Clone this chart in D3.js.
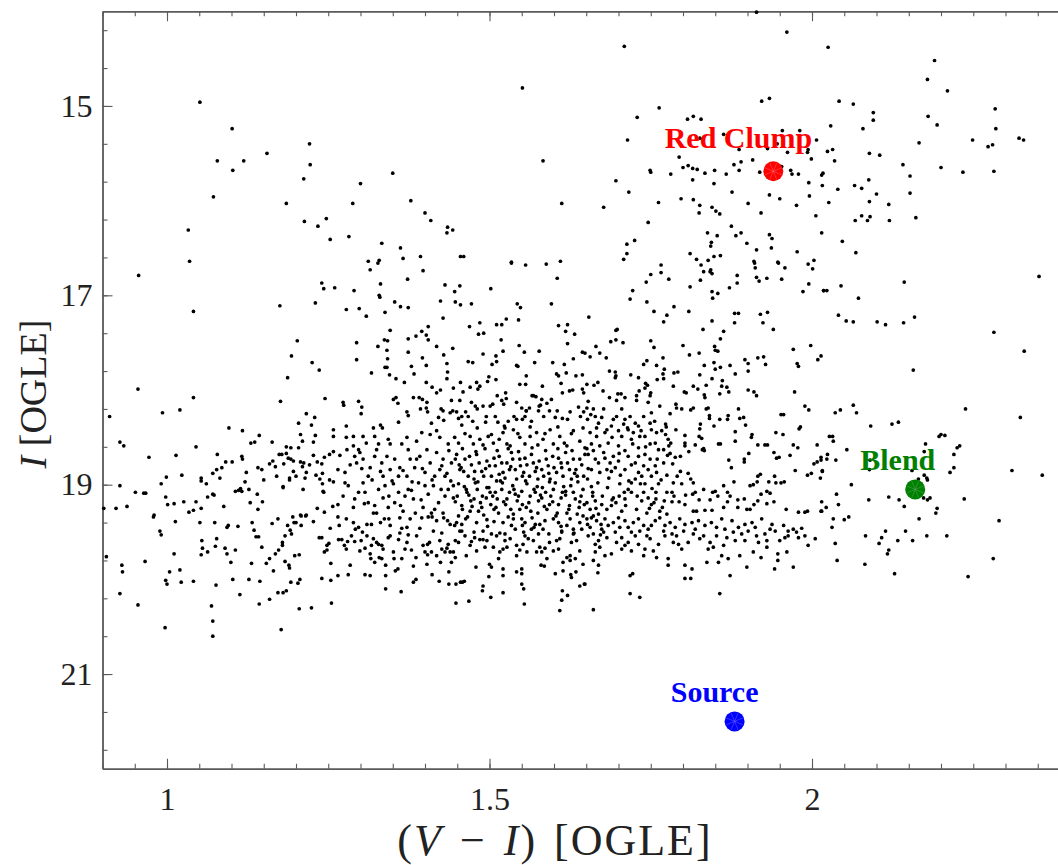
<!DOCTYPE html>
<html lang="en">
<head>
    <meta charset="UTF-8">
    <title>OGLE colour-magnitude diagram</title>
    <style>
        html, body {
            margin: 0;
            padding: 0;
            background-color: #ffffff;
        }
        svg text {
            font-family: 'Liberation Serif', 'DejaVu Serif', serif;
        }
    </style>
</head>
<body>
    <div id="graph"></div>
    <script src="https://d3js.org/d3.v7.min.js"></script>
    <script>
        // STAR DATA: [V-I, I]
        const brightStars = [
            [1.051,14.96],[1.101,15.24],[1.221,15.40],[1.155,15.50],[1.078,15.58],[1.119,15.58],[1.222,15.62],[1.102,15.68],[1.212,15.77],[1.072,15.96],[1.185,16.03],[1.213,16.22],[1.247,16.19],[1.234,16.27],[1.253,16.41],[1.033,16.31],[1.035,16.64],
            [1.551,14.81],[1.583,15.58],[1.350,15.71],[1.300,15.82],[1.288,16.03],[1.378,16.00],[1.612,16.03],[1.400,16.13],[1.409,16.21],[1.435,16.28],[1.434,16.34],[1.443,16.31],[1.282,16.38],[1.333,16.45],[1.362,16.50],[1.366,16.61],[1.393,16.59],[1.455,16.59],[1.460,16.59],[1.312,16.64],[1.329,16.63],[1.534,16.65],[1.610,16.64],
            [1.914,14.01],[1.961,14.22],[1.709,14.37],[1.922,14.95],[1.934,14.92],[1.763,15.02],[1.729,15.12],[1.807,15.14],[1.816,15.11],[1.828,15.14],[1.714,15.36],[1.863,15.30],[1.826,15.34],[1.954,15.26],[1.981,15.26],[2.007,15.36],[1.946,15.40],[1.931,15.45],[1.887,15.46],[1.962,15.49],[1.994,15.46],[1.993,15.49],[1.999,15.56],[1.794,15.54],[1.800,15.65],[1.808,15.63],[1.815,15.66],[1.822,15.67],[1.749,15.68],[1.750,15.70],[1.781,15.72],[1.834,15.71],[1.849,15.68],[1.867,15.72],[1.879,15.62],[1.890,15.59],[1.908,15.57],[1.887,15.68],[1.919,15.70],[1.953,15.64],[1.967,15.68],[1.969,15.72],[1.979,15.72],[1.995,15.81],[2.015,15.73],[2.017,15.71],[2.016,15.84],[1.815,15.78],[1.848,15.82],[1.696,15.79],[1.716,15.91],[1.876,15.91],[1.934,15.94],[1.950,15.98],[1.996,15.95],[1.677,16.07],[1.762,16.02],[1.797,15.98],[1.816,15.99],[1.826,16.05],[1.825,16.13],[1.845,16.07],[1.851,16.11],[1.857,16.14],[1.901,16.03],[1.921,16.13],[1.976,16.05],[2.006,16.16],[1.746,16.23],[1.725,16.42],[1.713,16.46],[1.713,16.56],[1.708,16.62],[1.838,16.34],[1.853,16.37],[1.844,16.44],[1.843,16.48],[1.875,16.27],[1.882,16.37],[1.890,16.34],[1.899,16.45],[1.914,16.52],[1.934,16.36],[1.938,16.40],[1.937,16.50],[1.977,16.54],[2.015,16.34],[1.811,16.56],[1.821,16.62],[1.839,16.63],[1.848,16.59],[1.858,16.58],[1.910,16.64],[1.947,16.65],[2.003,16.63],
            [2.025,14.38],[2.190,14.52],[2.179,14.72],[2.210,14.84],[2.042,14.95],[2.064,14.98],[2.095,15.07],[2.095,15.15],[2.284,15.03],[2.180,15.11],[2.194,15.20],[2.029,15.21],[2.079,15.24],[2.285,15.24],[2.166,15.39],[2.249,15.36],[2.273,15.43],[2.280,15.41],[2.321,15.34],[2.328,15.36],[2.024,15.48],[2.032,15.46],[2.035,15.58],[2.089,15.50],[2.105,15.52],[2.141,15.62],[2.200,15.65],[2.234,15.70],[2.282,15.69],[2.152,15.74],[2.088,15.78],[2.040,15.88],[2.066,15.84],[2.077,15.87],[2.100,15.93],[2.152,15.92],[2.026,16.02],[2.089,16.01],[2.119,16.04],[2.077,16.16],[2.090,16.17],[2.086,16.21],[2.067,16.21],[2.120,16.21],[2.161,16.18],[2.047,16.43],[2.068,16.55]
        ];

        const middleStars = [
            [0.956,16.79],[1.041,17.17],[1.175,17.11],[1.240,16.87],[1.243,16.93],[1.260,16.92],[1.230,17.08],[1.202,17.48],[1.193,17.64],[1.187,17.87],[1.225,17.71],[1.236,17.79],[1.176,18.12],[1.245,18.09],[0.955,17.99],[1.041,18.08],[0.911,18.28],[0.993,18.24],[1.020,18.21],[1.216,18.25],[1.229,18.29],[1.204,18.35],[1.224,18.37],[1.096,18.40],[1.117,18.43],[1.207,18.47],[1.210,18.54],[1.204,18.61],[1.227,18.55],[1.230,18.48],[1.258,18.42],[1.258,18.49],[0.927,18.55],[0.933,18.59],[1.045,18.60],[0.972,18.71],[1.014,18.69],[1.078,18.68],[1.116,18.70],[1.117,18.73],[1.130,18.56],[1.136,18.55],[1.143,18.48],[1.163,18.55],[1.174,18.68],[1.178,18.68],[1.185,18.67],[1.185,18.60],[1.192,18.61],[1.188,18.72],[1.192,18.73],[1.196,18.75],[1.207,18.76],[1.212,18.77],[1.210,18.81],[1.221,18.79],[1.227,18.69],[1.233,18.76],[1.240,18.78],[1.244,18.71],[1.252,18.68],[1.258,18.65],[1.268,18.69],[1.091,18.76],[1.101,18.76],[1.085,18.82],[1.077,18.84],[1.071,18.88],[1.082,18.93],[1.053,18.93],[1.053,18.96],[1.061,18.99],[1.023,18.90],[0.999,18.92],[0.991,18.99],[1.141,18.82],[1.147,18.84],[1.150,18.95],[1.123,18.87],[1.159,18.78],[1.164,18.75],[1.168,18.81],[1.170,18.91],[1.181,18.78],[1.190,18.93],[1.190,18.95],[1.196,18.86],[1.200,18.91],[1.180,19.03],[1.180,19.02],[1.211,19.05],[1.214,18.93],[1.216,18.87],[1.231,18.90],[1.237,18.94],[1.241,18.99],[1.241,18.88],[1.252,18.95],[1.258,18.97],[1.265,18.84],[1.242,19.07],[1.243,19.08],[0.927,19.01],[0.951,19.08],[0.964,19.09],[0.967,19.09],[0.998,19.13],[1.001,19.21],[1.011,19.20],[1.026,19.18],[1.045,19.18],[1.034,19.29],[1.041,19.27],[1.053,19.25],[1.063,19.13],[1.071,19.10],[1.073,19.11],[1.088,19.23],[1.106,19.07],[1.111,19.06],[1.114,19.04],[1.116,19.07],[1.121,18.97],[1.127,19.05],[1.129,19.19],[1.140,19.10],[1.141,19.26],[1.148,19.18],[1.233,19.25],[1.244,19.29],[1.257,19.23],[1.265,19.21],[0.902,19.25],[0.921,19.25],[0.938,19.23],[0.980,19.32],[1.207,19.32],[1.216,19.32],
            [1.315,16.73],[1.327,16.66],[1.397,16.74],[1.373,16.83],[1.331,16.88],[1.290,16.95],[1.329,17.00],[1.330,17.02],[1.278,17.15],[1.298,17.14],[1.309,17.22],[1.338,17.18],[1.353,17.07],[1.362,17.12],[1.374,17.13],[1.424,17.06],[1.431,16.89],[1.446,16.96],[1.454,16.90],[1.447,17.07],[1.455,17.10],[1.472,17.09],[1.428,17.24],[1.502,16.93],[1.534,16.66],[1.556,16.68],[1.588,16.67],[1.605,16.82],[1.596,17.09],[1.543,17.09],[1.548,17.13],[1.545,17.26],[1.346,17.37],[1.337,17.47],[1.342,17.48],[1.294,17.50],[1.294,17.68],[1.327,17.54],[1.341,17.58],[1.342,17.67],[1.338,17.76],[1.341,17.76],[1.317,17.82],[1.345,17.84],[1.355,17.88],[1.368,17.92],[1.374,17.46],[1.374,17.60],[1.386,17.43],[1.395,17.38],[1.405,17.33],[1.402,17.42],[1.405,17.47],[1.379,17.75],[1.383,17.83],[1.396,17.66],[1.402,17.74],[1.418,17.54],[1.429,17.63],[1.434,17.72],[1.435,17.81],[1.434,17.88],[1.443,17.56],[1.455,17.92],[1.402,17.92],[1.411,17.97],[1.418,18.03],[1.424,18.00],[1.444,17.98],[1.459,18.02],[1.469,17.33],[1.485,17.29],[1.483,17.41],[1.491,17.40],[1.511,17.31],[1.519,17.31],[1.526,17.25],[1.518,17.47],[1.467,17.70],[1.474,17.71],[1.490,17.62],[1.510,17.64],[1.511,17.70],[1.504,17.73],[1.521,17.59],[1.499,17.86],[1.510,17.89],[1.470,17.97],[1.480,17.92],[1.482,17.99],[1.485,17.96],[1.497,17.91],[1.525,18.03],[1.526,18.09],[1.512,18.06],[1.546,17.53],[1.554,17.60],[1.577,17.59],[1.542,17.74],[1.544,17.75],[1.570,17.71],[1.557,17.85],[1.547,17.94],[1.556,17.94],[1.582,17.96],[1.598,17.71],[1.607,17.32],[1.621,17.31],[1.618,17.38],[1.632,17.41],[1.621,17.51],[1.644,17.60],[1.630,17.67],[1.616,17.73],[1.604,17.83],[1.607,17.85],[1.619,17.82],[1.634,17.85],[1.644,17.84],[1.611,17.93],[1.613,18.03],[1.624,18.01],[1.629,18.00],[1.644,17.99],[1.646,18.03],[1.566,18.06],[1.572,18.07],[1.581,18.10],[1.589,18.14],[1.596,18.10],[1.577,18.17],[1.351,18.10],[1.355,18.08],[1.358,18.14],[1.382,18.08],[1.391,18.08],[1.396,18.10],[1.403,18.13],[1.393,18.20],[1.402,18.19],[1.372,18.23],[1.374,18.27],[1.359,18.34],[1.273,18.13],[1.274,18.16],[1.297,18.12],[1.302,18.18],[1.301,18.25],[1.441,18.11],[1.454,18.11],[1.425,18.20],[1.428,18.22],[1.472,18.13],[1.478,18.17],[1.481,18.20],[1.490,18.17],[1.501,18.17],[1.505,18.15],[1.519,18.11],[1.522,18.15],[1.542,18.13],[1.550,18.19],[1.557,18.22],[1.562,18.19],[1.568,18.06],
            [1.766,16.68],[1.766,16.76],[1.750,16.78],[1.743,16.86],[1.778,16.83],[1.828,16.68],[1.832,16.75],[1.842,16.75],[1.845,16.77],[1.843,16.73],[1.827,16.84],[1.811,16.91],[1.722,16.95],[1.718,17.04],[1.744,17.07],[1.786,17.12],[1.755,17.17],[1.775,17.21],[1.770,17.28],[1.809,17.17],[1.845,16.96],[1.846,17.03],[1.854,16.98],[1.872,16.92],[1.884,16.79],[1.884,16.87],[1.845,17.27],[1.831,17.36],[1.863,17.38],[1.858,17.46],[1.880,17.19],[1.886,17.19],[1.880,17.29],[1.911,16.66],[1.912,16.71],[1.918,16.85],[1.914,16.81],[1.930,16.82],[1.948,16.66],[1.958,16.71],[1.953,16.83],[1.994,16.67],[2.001,16.72],[1.995,16.88],[1.986,16.96],[2.018,16.95],[1.920,17.20],[1.931,17.18],[1.924,17.29],[1.940,17.36],[1.698,17.36],[1.696,17.37],[1.688,17.49],[1.696,17.47],[1.707,17.50],[1.654,17.23],[1.665,17.54],[1.671,17.61],[1.681,17.66],[1.648,17.61],[1.656,17.65],[1.750,17.48],[1.755,17.55],[1.800,17.53],[1.810,17.63],[1.825,17.61],[1.849,17.54],[1.850,17.58],[1.854,17.59],[1.848,17.71],[1.850,17.78],[1.858,17.76],[1.873,17.74],[1.881,17.83],[1.896,17.68],[1.901,17.72],[1.901,17.80],[1.916,17.66],[1.925,17.65],[1.928,17.73],[1.971,17.57],[1.998,17.53],[2.014,17.64],[2.009,17.68],[1.977,17.72],[1.979,17.75],[1.744,17.69],[1.739,17.73],[1.759,17.74],[1.769,17.66],[1.771,17.78],[1.769,17.83],[1.770,17.88],[1.686,17.80],[1.695,17.81],[1.696,17.85],[1.695,17.87],[1.719,17.84],[1.731,17.87],[1.742,17.93],[1.760,17.89],[1.786,17.82],[1.792,17.81],[1.826,17.84],[1.833,17.74],[1.845,17.88],[1.861,17.90],[1.860,17.96],[1.868,17.97],[1.871,18.02],[1.857,18.04],[1.901,18.00],[1.910,18.02],[1.914,18.06],[1.973,18.02],[1.989,18.17],[1.995,18.21],[1.651,17.94],[1.662,17.95],[1.668,17.92],[1.676,18.01],[1.686,18.08],[1.699,18.04],[1.704,18.04],[1.710,18.08],[1.697,18.11],[1.728,18.06],[1.728,18.11],[1.732,18.01],[1.741,17.98],[1.745,17.95],[1.750,18.03],[1.749,18.06],[1.785,17.96],[1.802,18.02],[1.805,18.03],[1.816,17.96],[1.823,17.99],[1.833,18.05],[1.836,17.95],
            [2.352,16.80],[2.018,16.95],[2.023,16.95],[2.045,16.90],[2.143,16.86],[2.072,17.03],[2.041,17.21],[2.053,17.27],[2.064,17.28],[2.101,17.28],[2.114,17.31],[2.142,17.29],[2.159,17.23],[2.282,17.39],[2.329,17.59],[2.157,17.79],[2.238,18.20],[2.323,18.29],[2.036,18.24],[2.044,18.21],[2.064,18.16],[2.069,18.24],[2.091,18.38],[2.124,18.36],[2.134,18.34],[2.027,18.49],[2.032,18.49],[2.033,18.54],[2.197,18.49],[2.200,18.47],[2.206,18.48],[2.176,18.57],[2.174,18.65],[2.225,18.61],[2.229,18.59],[2.220,18.68],[2.220,18.82],[2.214,18.87],[2.014,18.71],[2.024,18.68],[2.023,18.73],[2.037,18.74],[2.054,18.63],[2.090,18.74],[2.089,18.84],[2.016,18.85],[2.013,18.93],[2.155,18.85],[2.174,18.90],[2.178,18.93],[2.179,18.95],[2.165,18.94],[2.061,19.00],[2.038,19.10],[2.041,19.21],[2.088,19.16],[2.119,19.13],[2.135,19.16],[2.143,19.23],[2.173,19.14],[2.179,19.16],[2.183,19.14],[2.236,19.15],[2.310,18.85],[2.357,18.90],[2.022,19.24],[2.014,19.28],[2.194,19.25],[2.192,19.30]
        ];

        const coreStars = [
            [1.449,18.23],[1.452,18.30],[1.457,18.28],[1.463,18.23],[1.467,18.28],[1.474,18.33],[1.495,18.28],[1.494,18.34],[1.509,18.28],[1.513,18.34],[1.523,18.38],[1.529,18.33],[1.538,18.28],[1.542,18.31],[1.551,18.31],[1.555,18.28],[1.557,18.22],[1.565,18.33],[1.576,18.22],[1.579,18.16],[1.584,18.28],[1.593,18.22],[1.602,18.29],[1.605,18.22],[1.613,18.30],[1.621,18.31],[1.625,18.23],[1.638,18.18],[1.641,18.28],[1.646,18.23],[1.404,18.23],[1.410,18.35],[1.421,18.29],[1.429,18.32],[1.439,18.24],[1.443,18.22],[1.278,18.38],[1.320,18.40],[1.331,18.37],[1.334,18.40],
            [1.278,18.50],[1.289,18.49],[1.304,18.49],[1.309,18.56],[1.289,18.59],[1.297,18.63],[1.322,18.49],[1.328,18.57],[1.343,18.52],[1.346,18.57],[1.364,18.57],[1.372,18.50],[1.387,18.54],[1.395,18.45],[1.408,18.47],[1.418,18.43],[1.423,18.50],[1.436,18.57],[1.446,18.50],[1.452,18.56],[1.470,18.49],[1.475,18.57],[1.485,18.52],[1.498,18.49],[1.506,18.56],[1.515,18.52],[1.521,18.45],[1.527,18.57],[1.537,18.42],[1.547,18.50],[1.555,18.57],[1.563,18.49],[1.573,18.45],[1.583,18.52],[1.594,18.42],[1.599,18.57],[1.609,18.49],[1.620,18.59],[1.630,18.43],[1.640,18.54],[1.648,18.61],
            [1.276,18.87],[1.284,18.79],[1.291,18.70],[1.299,18.66],[1.304,18.73],[1.315,18.82],[1.322,18.70],[1.333,18.77],[1.335,18.91],[1.346,18.84],[1.353,18.73],[1.361,18.82],[1.372,18.91],[1.377,18.73],[1.384,18.82],[1.392,18.70],[1.400,18.87],[1.408,18.77],[1.418,18.66],[1.423,18.84],[1.431,18.91],[1.441,18.77],[1.449,18.68],[1.454,18.84],[1.462,18.73],[1.467,18.91],[1.472,18.79],[1.480,18.68],[1.488,18.86],[1.496,18.75],[1.503,18.91],[1.509,18.80],[1.515,18.70],[1.521,18.87],[1.527,18.77],[1.534,18.66],[1.540,18.84],[1.547,18.73],[1.551,18.91],[1.558,18.79],[1.565,18.68],[1.571,18.86],[1.577,18.75],[1.584,18.91],[1.591,18.80],[1.598,18.70],[1.604,18.87],[1.611,18.77],[1.618,18.66],[1.624,18.84],[1.630,18.73],[1.636,18.91],[1.643,18.79],[1.648,18.68],
            [1.273,19.12],[1.281,19.01],[1.289,19.24],[1.297,19.08],[1.304,18.98],[1.312,19.19],[1.320,19.30],[1.328,19.05],[1.335,19.14],[1.343,19.24],[1.351,18.99],[1.359,19.08],[1.366,19.28],[1.374,19.05],[1.382,19.15],[1.390,18.98],[1.397,19.24],[1.405,19.10],[1.413,19.01],[1.421,19.19],[1.428,19.30],[1.436,19.05],[1.444,19.14],[1.452,18.99],[1.458,19.26],[1.465,19.08],[1.471,19.17],[1.478,18.98],[1.483,19.28],[1.489,19.12],[1.496,19.03],[1.502,19.21],[1.509,19.08],[1.514,19.30],[1.520,18.98],[1.527,19.15],[1.533,19.26],[1.538,19.05],[1.545,19.12],[1.551,19.21],[1.558,18.99],[1.564,19.28],[1.571,19.08],[1.576,19.17],[1.582,19.03],[1.589,19.26],[1.595,19.12],[1.602,18.98],[1.607,19.21],[1.613,19.08],[1.620,19.30],[1.626,19.01],[1.633,19.15],[1.639,19.24],[1.645,19.05],
            [1.447,18.73],[1.453,18.79],[1.460,18.86],[1.469,18.70],[1.476,18.94],[1.484,18.77],[1.491,18.91],[1.500,18.80],[1.507,18.72],[1.511,18.96],[1.519,18.77],[1.524,18.93],[1.531,18.84],[1.536,18.73],[1.542,18.94],[1.548,18.80],[1.555,18.72],[1.562,18.91],[1.568,18.77],[1.575,18.94],[1.581,18.84],[1.588,18.73],[1.594,18.94],[1.600,18.82],[1.607,18.72],[1.614,18.91],[1.621,18.77],[1.627,18.94],[1.634,18.84],[1.640,18.73],[1.646,18.91],
            [1.444,19.01],[1.450,19.12],[1.457,19.22],[1.464,19.05],[1.470,19.28],[1.476,19.15],[1.481,19.05],[1.488,19.24],[1.495,19.14],[1.501,19.08],[1.507,19.26],[1.512,19.15],[1.519,19.05],[1.525,19.21],[1.531,19.08],[1.537,19.31],[1.543,19.17],[1.550,19.07],[1.557,19.24],[1.563,19.12],[1.569,19.05],[1.575,19.30],[1.581,19.14],[1.587,19.08],[1.593,19.21],[1.599,19.05],[1.605,19.30],[1.611,19.14],[1.618,19.07],[1.624,19.22],[1.630,19.08],[1.636,19.31],[1.642,19.12],[1.647,19.21],
            [1.279,18.63],[1.294,18.77],[1.312,18.91],[1.325,18.63],[1.341,18.70],[1.359,18.91],[1.374,18.63],[1.387,18.73],[1.403,18.63],[1.415,18.91],[1.428,18.73],[1.276,18.98],[1.291,19.15],[1.307,19.08],[1.322,19.22],[1.338,19.01],[1.353,19.19],[1.369,19.12],[1.385,19.30],[1.400,19.01],[1.415,19.26],[1.431,19.12],
            [1.653,18.12],[1.661,18.20],[1.652,18.31],[1.664,18.28],[1.677,18.20],[1.669,18.35],[1.656,18.45],[1.666,18.49],[1.679,18.45],[1.658,18.57],[1.671,18.59],[1.684,18.56],[1.653,18.68],[1.664,18.73],[1.677,18.66],[1.687,18.77],[1.658,18.84],[1.671,18.87],[1.682,18.84],[1.695,18.82],[1.692,18.70],[1.700,18.59],[1.705,18.49],[1.689,18.38],[1.697,18.28],[1.705,18.20],[1.715,18.42],[1.710,18.31],[1.726,18.35],[1.720,18.52],[1.733,18.49],[1.731,18.61],[1.715,18.70],[1.726,18.77],[1.741,18.68],[1.749,18.57],[1.759,18.45],[1.762,18.63],[1.751,18.42],[1.739,18.28],[1.751,18.24],[1.764,18.17],[1.746,18.13],[1.770,18.77],[1.757,18.80],[1.710,18.84],[1.777,18.52],
            [1.751,18.91],[1.746,18.84],[1.736,18.91],[1.731,18.87],[1.726,18.94],[1.720,18.98],[1.715,19.05],[1.709,19.08],[1.701,19.12],[1.696,19.19],[1.689,19.22],[1.682,19.26],[1.674,19.21],[1.664,19.17],[1.656,19.26],[1.651,19.19],
            [1.651,18.19],[1.657,18.26],[1.666,18.40],[1.674,18.29],[1.682,18.42],[1.692,18.31],[1.700,18.43],[1.708,18.36],[1.718,18.28],[1.723,18.45],[1.731,18.38],[1.741,18.49],[1.749,18.35],[1.757,18.56],[1.767,18.43],[1.661,18.64],[1.669,18.77],[1.679,18.72],[1.689,18.86],[1.700,18.75],[1.710,18.64],[1.720,18.79],[1.731,18.70],[1.739,18.80],[1.749,18.73],[1.759,18.87],[1.770,18.63],[1.652,18.94],[1.660,19.08],[1.668,18.98],[1.675,19.12],[1.683,19.03],[1.692,19.14],[1.702,18.99],[1.710,19.15],[1.720,19.08],[1.728,19.26],[1.736,19.17],[1.744,19.30],[1.751,19.21],[1.764,19.28],[1.775,19.31],[1.705,19.28],[1.669,19.31],[1.661,19.33],
            [1.886,18.20],[1.888,18.30],[1.894,18.29],[1.897,18.37],[1.870,18.27],[1.857,18.31],[1.869,18.31],[1.881,18.44],[1.881,18.54],[1.907,18.47],[1.906,18.50],[1.916,18.58],[1.927,18.58],[1.931,18.58],[1.902,18.67],[1.895,18.73],[1.895,18.76],[1.871,18.74],[1.875,18.82],[1.941,18.66],[1.949,18.71],[1.945,18.72],[1.966,18.69],[1.971,18.58],[1.978,18.61],[1.980,18.41],[1.982,18.39],[1.944,18.45],[1.955,18.47],[1.952,18.26],[1.956,18.26],[2.008,18.58],[2.003,18.78],[2.008,18.76],[2.014,18.74],[2.016,18.86],[1.974,18.85],[1.993,18.90],[1.999,18.88],[1.942,18.91],[1.944,18.98],[1.952,18.98],[1.957,18.97],[1.933,18.97],[1.930,19.07],[1.935,19.09],[1.920,18.89],[1.916,18.91],[1.915,18.97],[1.909,19.00],[1.904,19.01],[1.921,19.10],[1.916,19.17],[1.910,19.21],[1.904,19.26],[1.930,19.20],[1.941,19.18],[1.960,19.26],[1.989,19.29],[1.993,19.28],[1.979,19.29],[2.015,19.28],[2.015,19.18],[1.848,18.38],[1.855,18.57],[1.858,18.57],[1.841,18.27],[1.841,18.30],[1.836,18.20],[1.839,18.19],[1.834,18.08],[1.827,18.36],[1.826,18.41],[1.825,18.49],[1.829,18.51],[1.832,18.62],[1.830,18.63],[1.833,18.64],[1.819,18.58],[1.812,18.21],[1.816,18.19],[1.803,18.48],[1.803,18.56],[1.803,18.59],[1.809,18.65],[1.796,18.70],[1.788,18.71],[1.776,18.69],[1.780,18.67],[1.778,18.59],[1.781,18.56],[1.773,18.47],[1.774,18.39],[1.773,18.36],[1.789,18.42],[1.780,18.25],[1.790,18.19],[1.789,18.15],[1.798,18.20],[1.808,18.88],[1.796,18.86],[1.812,18.94],[1.816,18.98],[1.819,19.08],[1.815,19.10],[1.804,19.11],[1.825,19.16],[1.832,19.05],[1.842,19.16],[1.846,19.08],[1.850,19.07],[1.854,19.12],[1.863,19.01],[1.869,19.08],[1.873,19.12],[1.879,18.97],[1.885,19.16],[1.895,19.15],[1.899,19.26],[1.885,19.24],[1.869,19.18],[1.863,19.24],[1.845,19.27],[1.834,19.27],[1.821,19.28],[1.816,19.28],[1.794,19.18],[1.803,19.21],[1.783,19.18],[1.783,19.08],[1.785,18.98],[1.798,18.99],[1.775,19.08],[1.771,19.17],[1.775,18.90],[1.762,18.99],[1.758,19.08],[1.758,19.15],[1.755,19.19],[1.746,19.14],[1.739,19.08],[1.741,18.99]
        ];

        // extra stars filling the crowded centre of the diagram
        const crowdedStars = [
            [1.437,18.64],[1.458,18.62],[1.479,18.65],[1.493,18.62],[1.512,18.64],[1.529,18.62],[1.545,18.65],[1.566,18.61],[1.587,18.64],[1.606,18.62],[1.628,18.64],[1.651,18.62],
            [1.434,18.88],[1.456,18.82],[1.477,18.86],[1.494,18.83],[1.515,18.89],[1.533,18.81],[1.553,18.87],[1.573,18.82],[1.592,18.88],[1.612,18.82],[1.632,18.88],[1.653,18.83],
            [1.440,18.96],[1.461,19.02],[1.482,18.97],[1.499,19.03],[1.517,18.96],[1.536,19.01],[1.556,18.96],[1.574,19.02],[1.593,18.97],[1.615,19.02],[1.637,18.97],[1.658,19.02],
            [1.447,19.18],[1.468,19.11],[1.486,19.19],[1.505,19.12],[1.522,19.18],[1.540,19.10],[1.561,19.19],[1.579,19.11],[1.598,19.18],[1.618,19.11],[1.640,19.18],[1.660,19.12],
            [1.452,19.33],[1.473,19.23],[1.491,19.32],[1.510,19.24],[1.529,19.34],[1.547,19.26],[1.566,19.35],[1.585,19.23],[1.603,19.33],[1.623,19.26],[1.645,19.33],[1.665,19.25],
            [1.457,19.42],[1.476,19.50],[1.497,19.44],[1.516,19.51],[1.534,19.43],[1.553,19.50],[1.571,19.42],[1.592,19.52],[1.611,19.44],[1.631,19.51],[1.652,19.42],[1.672,19.53],
            [1.302,18.83],[1.318,18.95],[1.331,18.86],[1.349,18.96],[1.366,18.85],[1.380,18.97],[1.396,18.83],[1.411,18.95],[1.426,18.80],[1.306,19.20],[1.325,19.30],[1.344,19.12],[1.362,19.22],[1.379,19.06],[1.394,19.16],[1.410,19.30],[1.425,19.05],
            [1.685,18.93],[1.703,18.90],[1.716,18.96],[1.734,18.99],[1.752,19.04],[1.766,18.95],[1.690,19.16],[1.711,19.22],[1.729,19.12],[1.748,19.25],[1.768,19.24],[1.786,19.12],[1.791,18.91],[1.784,18.78],[1.760,18.73],[1.742,18.60],[1.722,18.57],[1.701,18.67],[1.690,18.50],[1.714,18.40],[1.735,18.43],[1.756,18.33],
            [1.462,18.46],[1.481,18.40],[1.503,18.47],[1.524,18.40],[1.544,18.46],[1.563,18.39],[1.586,18.46],[1.606,18.39],[1.627,18.46],[1.645,18.40],[1.457,18.37],[1.490,18.58],[1.532,18.59],[1.575,18.58],[1.616,18.56]
        ];

        const faintStars = [
            [1.278,19.36],[1.292,19.47],[1.297,19.45],[1.303,19.50],[1.310,19.42],[1.317,19.42],[1.331,19.40],[1.337,19.36],[1.344,19.36],[1.361,19.35],[1.377,19.36],[1.392,19.46],[1.395,19.35],[1.405,19.34],[1.411,19.34],[1.429,19.35],[1.435,19.38],[1.439,19.42],[1.446,19.43],[1.449,19.40],[1.454,19.49],[1.463,19.36],[1.466,19.34],[1.480,19.40],[1.496,19.37],[1.507,19.39],[1.521,19.40],[1.537,19.36],[1.550,19.36],[1.551,19.43],[1.555,19.40],[1.565,19.47],[1.569,19.45],[1.583,19.47],[1.586,19.38],[1.599,19.36],[1.607,19.40],[1.612,19.49],[1.625,19.36],[1.630,19.47],[1.640,19.40],
            [1.271,19.58],[1.280,19.60],[1.275,19.64],[1.278,19.68],[1.291,19.60],[1.301,19.59],[1.310,19.54],[1.307,19.67],[1.317,19.64],[1.320,19.57],[1.325,19.61],[1.328,19.63],[1.333,19.64],[1.343,19.56],[1.346,19.54],[1.359,19.58],[1.361,19.51],[1.364,19.46],[1.374,19.53],[1.369,19.68],[1.379,19.69],[1.386,19.77],[1.397,19.64],[1.404,19.63],[1.407,19.61],[1.404,19.74],[1.410,19.71],[1.418,19.75],[1.426,19.51],[1.426,19.68],[1.431,19.71],[1.434,19.67],[1.436,19.63],[1.439,19.71],[1.444,19.71],[1.447,19.77],[1.447,19.59],[1.452,19.61],[1.457,19.49],[1.464,19.75],[1.470,19.64],[1.472,19.60],[1.477,19.56],[1.485,19.58],[1.490,19.58],[1.496,19.59],[1.503,19.52],[1.506,19.66],[1.514,19.78],[1.516,19.71],[1.521,19.68],[1.524,19.59],[1.524,19.52],[1.527,19.66],[1.542,19.75],[1.542,19.64],[1.547,19.69],[1.552,19.63],[1.555,19.54],[1.560,19.57],[1.568,19.59],[1.573,19.71],[1.578,19.66],[1.581,19.71],[1.586,19.67],[1.593,19.61],[1.599,19.70],[1.604,19.59],[1.609,19.57],[1.612,19.50],[1.620,19.77],[1.625,19.80],[1.627,19.61],[1.630,19.52],[1.640,19.70],[1.645,19.84],
            [1.284,19.85],[1.281,19.95],[1.307,19.95],[1.315,19.96],[1.316,19.78],[1.329,19.77],[1.333,19.78],[1.339,19.85],[1.339,19.96],[1.339,20.10],[1.352,19.78],[1.358,19.89],[1.354,19.91],[1.364,19.78],[1.363,20.13],[1.382,20.03],[1.386,20.00],[1.382,19.86],[1.403,19.84],[1.411,19.95],[1.422,20.02],[1.424,19.82],[1.437,19.92],[1.437,20.05],[1.448,20.05],[1.448,20.25],[1.455,20.03],[1.458,20.03],[1.461,20.02],[1.468,20.23],[1.479,19.87],[1.490,20.07],[1.489,20.12],[1.499,19.97],[1.500,19.84],[1.503,19.87],[1.502,20.19],[1.521,19.96],[1.521,20.14],[1.521,19.89],[1.542,19.92],[1.550,19.89],[1.550,19.94],[1.550,20.05],[1.553,20.10],[1.554,20.26],[1.580,19.85],[1.585,19.86],[1.602,19.94],[1.609,20.33],[1.612,20.22],[1.613,20.12],[1.621,20.17],[1.614,19.91],[1.627,19.98],[1.626,19.95],[1.634,19.92],[1.640,20.07],[1.647,20.05],[1.614,19.82],[1.625,19.75],
            [1.286,19.54],[1.299,19.70],[1.315,19.73],[1.322,19.82],[1.335,19.68],[1.351,19.71],[1.372,19.61],[1.387,19.54],[1.400,19.71],[1.413,19.49],[1.423,19.59],[1.441,19.82],[1.462,19.54],[1.480,19.70],[1.493,19.66],[1.511,19.54],[1.532,19.57],[1.540,19.47],[1.558,19.71],[1.576,19.52],[1.589,19.78],[1.607,19.68],[1.635,19.59],[1.643,19.47],[1.633,19.78],[1.289,19.40],[1.346,19.43],[1.372,19.45],[1.418,19.38],[1.490,19.49],[1.578,19.42],[1.620,19.43],
            [1.651,19.36],[1.658,19.35],[1.666,19.38],[1.673,19.42],[1.679,19.36],[1.684,19.43],[1.692,19.40],[1.700,19.35],[1.710,19.38],[1.715,19.45],[1.723,19.40],[1.731,19.36],[1.739,19.43],[1.746,19.47],[1.757,19.38],[1.764,19.35],[1.772,19.43],[1.780,19.40],[1.788,19.45],[1.795,19.36],[1.803,19.42],[1.814,19.40],[1.824,19.38],[1.834,19.43],[1.844,19.40],[1.852,19.45],[1.860,19.36],[1.865,19.47],[1.876,19.38],[1.886,19.45],[1.896,19.42],[1.907,19.40],[1.912,19.45],[1.922,19.36],[1.935,19.47],[1.943,19.49],[1.956,19.43],[1.963,19.49],[1.971,19.47],[1.984,19.46],
            [1.653,19.54],[1.661,19.52],[1.669,19.59],[1.677,19.50],[1.671,19.66],[1.664,19.71],[1.661,19.80],[1.669,19.85],[1.668,19.93],[1.679,19.75],[1.689,19.73],[1.697,19.61],[1.705,19.56],[1.705,19.68],[1.715,19.61],[1.720,19.70],[1.726,19.54],[1.731,19.63],[1.739,19.75],[1.741,19.68],[1.749,19.57],[1.754,19.70],[1.759,19.77],[1.772,19.54],[1.777,19.85],[1.777,19.78],[1.785,19.61],[1.790,19.54],[1.798,19.68],[1.803,19.85],[1.808,19.61],[1.814,19.89],[1.816,19.52],[1.826,19.57],[1.837,19.82],[1.839,19.68],[1.847,19.66],[1.855,19.82],[1.860,19.75],[1.868,19.56],[1.873,19.96],[1.870,19.78],[1.881,19.59],[1.888,19.75],[1.896,19.59],[1.899,19.87],[1.909,19.71],[1.917,19.61],[1.921,19.77],[1.930,19.59],[1.930,19.66],[1.942,19.89],[1.947,19.80],[1.947,19.73],[1.950,19.59],[1.961,19.71],[1.963,19.54],[1.971,19.87],[1.979,19.56],[1.994,19.64],[2.005,19.57],
            [1.718,19.96],[1.722,19.94],[1.718,20.15],[1.733,20.19],[1.803,19.99],[1.812,19.99],[1.857,20.15],[1.661,20.32],[1.648,20.05],
            [1.656,19.45],[1.664,19.63],[1.674,19.47],[1.682,19.56],[1.695,19.50],[1.702,19.45],[1.710,19.64],[1.720,19.50],[1.733,19.49],[1.744,19.54],[1.751,19.43],[1.762,19.63],[1.770,19.49],[1.783,19.52],[1.793,19.63],[1.801,19.49],[1.819,19.47],[1.832,19.54],[1.842,19.61],[1.852,19.54],[1.863,19.64],[1.878,19.50],[1.891,19.52],[1.901,19.49],[1.914,19.54],[1.927,19.52],[1.938,19.42],[1.958,19.56],[1.976,19.50],[1.989,19.54],
            [2.033,19.36],[2.050,19.37],[2.057,19.34],[2.031,19.45],[2.166,19.36],[2.290,19.38],[2.036,19.62],[2.039,19.80],[2.083,19.54],[2.082,19.84],[2.114,19.49],[2.108,19.56],[2.104,19.62],[2.119,19.69],[2.117,19.73],[2.128,19.94],[2.133,19.59],[2.145,19.49],[2.156,19.59],[2.178,19.54],[2.209,19.54],[2.242,19.97],[2.281,19.78],
            [0.979,19.34],[0.989,19.49],[0.991,19.53],[1.013,19.39],[0.906,19.76],[0.930,19.85],[0.931,19.92],[0.966,19.81],[0.927,20.15],[0.955,20.27],[0.998,20.01],[1.000,20.05],[1.004,19.92],[1.011,19.73],[1.020,19.90],[1.022,20.03],[0.997,20.51],[1.041,20.02],[1.051,19.40],[1.054,19.59],[1.055,19.67],[1.053,19.74],[1.063,19.71],[1.074,19.40],[1.077,19.57],[1.075,19.65],[1.076,20.06],[1.069,20.28],[1.071,20.44],[1.071,20.60],[1.090,19.67],[1.093,19.73],[1.099,19.82],[1.102,20.00],[1.093,19.45],[1.095,19.43],[1.110,19.44],[1.106,19.69],[1.113,20.16],[1.127,20.00],[1.131,19.83],[1.132,19.40],[1.135,19.48],[1.138,19.55],[1.142,19.55],[1.147,19.66],[1.144,20.02],[1.143,20.26],[1.154,19.83],[1.159,19.78],[1.163,19.41],[1.165,19.91],[1.168,19.73],[1.173,19.69],[1.172,19.36],[1.179,19.64],[1.179,19.61],[1.183,19.54],[1.183,19.81],[1.189,19.85],[1.190,19.88],[1.172,20.14],[1.180,20.14],[1.185,20.12],[1.159,20.21],[1.177,20.53],[1.187,19.43],[1.191,19.48],[1.193,19.52],[1.195,19.34],[1.197,19.40],[1.200,19.40],[1.208,19.43],[1.208,19.33],[1.215,19.33],[1.198,19.75],[1.205,19.74],[1.192,20.03],[1.203,20.04],[1.206,20.00],[1.205,20.31],[1.224,20.30],[1.227,19.39],[1.236,19.56],[1.240,19.56],[1.244,19.71],[1.248,19.69],[1.248,19.64],[1.251,19.62],[1.253,19.46],[1.267,19.43],[1.265,19.34],[1.254,19.83],[1.240,19.99],[1.254,20.01],[1.265,19.96],[1.255,20.25],[1.266,19.58]
        ];

        // MARKED OBJECTS
        const objectNames = ["Red Clump", "Blend", "Source"];
        const objectVI = [1.940, 2.160, 1.880];
        const objectI = [15.69, 19.05, 21.50];
        const objectColors = ["#ff0000", "#008000", "#0000ff"];
        const objectSpokes = ["#ff8080", "#66b366", "#7f7fff"];
        const labelVI = [1.886, 2.133, 1.849];
        const labelI = [15.44, 18.84, 21.29];

        // AXIS TICKS
        const xTickLabels = [1, 1.5, 2];
        const yTickLabels = [15, 17, 19, 21];

        const width = 1058, height = 865;
        const frameColor = "#5a5a5a";

        const svg = d3.select("#graph")
            .append("svg")
            .attr("width", width)
            .attr("height", height);

        const x = d3.scaleLinear().domain([0.9, 2.4]).range([102.5, 1070]);
        const y = d3.scaleLinear().domain([14, 22]).range([11.25, 768.75]);

        const xMinor = d3.range(18, 49).map(k => k * 0.05);
        const yMinor = d3.range(0, 20).map(k => 14.2 + k * 0.4);

        function styleAxis(g) {
            g.select(".domain").attr("stroke", frameColor).attr("stroke-width", 1.4);
            g.selectAll(".tick line").attr("stroke", frameColor).attr("stroke-width", 1.1);
            g.selectAll(".tick text")
                .attr("fill", "#222")
                .style("font-size", "32px")
                .style("font-family", "'Liberation Serif', serif");
        }

        // BOTTOM AXIS
        svg.append("g")
            .attr("transform", `translate(0, ${y(22)})`)
            .call(d3.axisBottom(x).tickValues(xMinor).tickSize(-5).tickSizeOuter(0).tickFormat(""))
            .call(styleAxis);
        svg.append("g")
            .attr("transform", `translate(0, ${y(22)})`)
            .call(d3.axisBottom(x).tickValues(xTickLabels).tickSize(-10).tickSizeOuter(0).tickPadding(19).tickFormat(d3.format("")))
            .call(styleAxis);

        // TOP AXIS
        svg.append("g")
            .attr("transform", `translate(0, ${y(14)})`)
            .call(d3.axisTop(x).tickValues(xMinor).tickSize(-5).tickSizeOuter(0).tickFormat(""))
            .call(styleAxis);
        svg.append("g")
            .attr("transform", `translate(0, ${y(14)})`)
            .call(d3.axisTop(x).tickValues(xTickLabels).tickSize(-10).tickSizeOuter(0).tickFormat(""))
            .call(styleAxis);

        // LEFT AXIS
        svg.append("g")
            .attr("transform", `translate(${x(0.9)}, 0)`)
            .call(d3.axisLeft(y).tickValues(yMinor).tickSize(-5).tickSizeOuter(0).tickFormat(""))
            .call(styleAxis);
        svg.append("g")
            .attr("transform", `translate(${x(0.9)}, 0)`)
            .call(d3.axisLeft(y).tickValues(yTickLabels).tickSize(-10).tickSizeOuter(0).tickPadding(10).tickFormat(d3.format("")))
            .call(styleAxis);

        // STARS
        const stars = brightStars.concat(middleStars, coreStars, crowdedStars, faintStars);
        svg.append("g")
            .selectAll("circle")
            .data(stars).enter()
            .append("circle")
            .attr("cx", d => x(d[0]))
            .attr("cy", d => y(d[1]))
            .attr("r", 1.85)
            .style("fill", "#000");

        // MARKED OBJECTS
        const objects = objectNames.map((name, i) => ({
            name: name, vi: objectVI[i], mag: objectI[i],
            color: objectColors[i], spoke: objectSpokes[i],
            lvi: labelVI[i], lmag: labelI[i]
        }));

        const marks = svg.append("g")
            .selectAll("g")
            .data(objects).enter()
            .append("g")
            .attr("transform", d => `translate(${x(d.vi)}, ${y(d.mag)})`);

        marks.append("circle")
            .attr("r", 10)
            .style("fill", d => d.color);

        marks.each(function(d) {
            const g = d3.select(this);
            d3.range(8).forEach(k => {
                const a = k * Math.PI / 4 + Math.PI / 8;
                g.append("line")
                    .attr("x1", 0).attr("y1", 0)
                    .attr("x2", 9 * Math.cos(a)).attr("y2", 9 * Math.sin(a))
                    .style("stroke", d.spoke)
                    .style("stroke-width", 0.6)
                    .style("opacity", 0.7);
            });
        });

        svg.append("g")
            .selectAll("text")
            .data(objects).enter()
            .append("text")
            .attr("x", d => x(d.lvi))
            .attr("y", d => y(d.lmag))
            .attr("text-anchor", "middle")
            .style("font-size", "30px")
            .style("font-weight", "bold")
            .style("fill", d => d.color)
            .text(d => d.name);

        // AXIS TITLES
        const xTitle = svg.append("text")
            .attr("x", 555)
            .attr("y", 855)
            .attr("text-anchor", "middle")
            .style("font-size", "44px")
            .style("letter-spacing", "2px")
            .style("word-spacing", "4px")
            .style("fill", "#222");
        xTitle.append("tspan").text("(");
        xTitle.append("tspan").style("font-style", "italic").text("V");
        xTitle.append("tspan").text(" \u2212 ");
        xTitle.append("tspan").style("font-style", "italic").text("I");
        xTitle.append("tspan").text(")  [OGLE]");

        const yTitle = svg.append("text")
            .attr("transform", "translate(46, 394) rotate(-90)")
            .attr("text-anchor", "middle")
            .style("font-size", "38px")
            .style("fill", "#222");
        yTitle.append("tspan").style("font-style", "italic").text("I");
        yTitle.append("tspan").text("  [OGLE]");
    </script>
</body>
</html>
